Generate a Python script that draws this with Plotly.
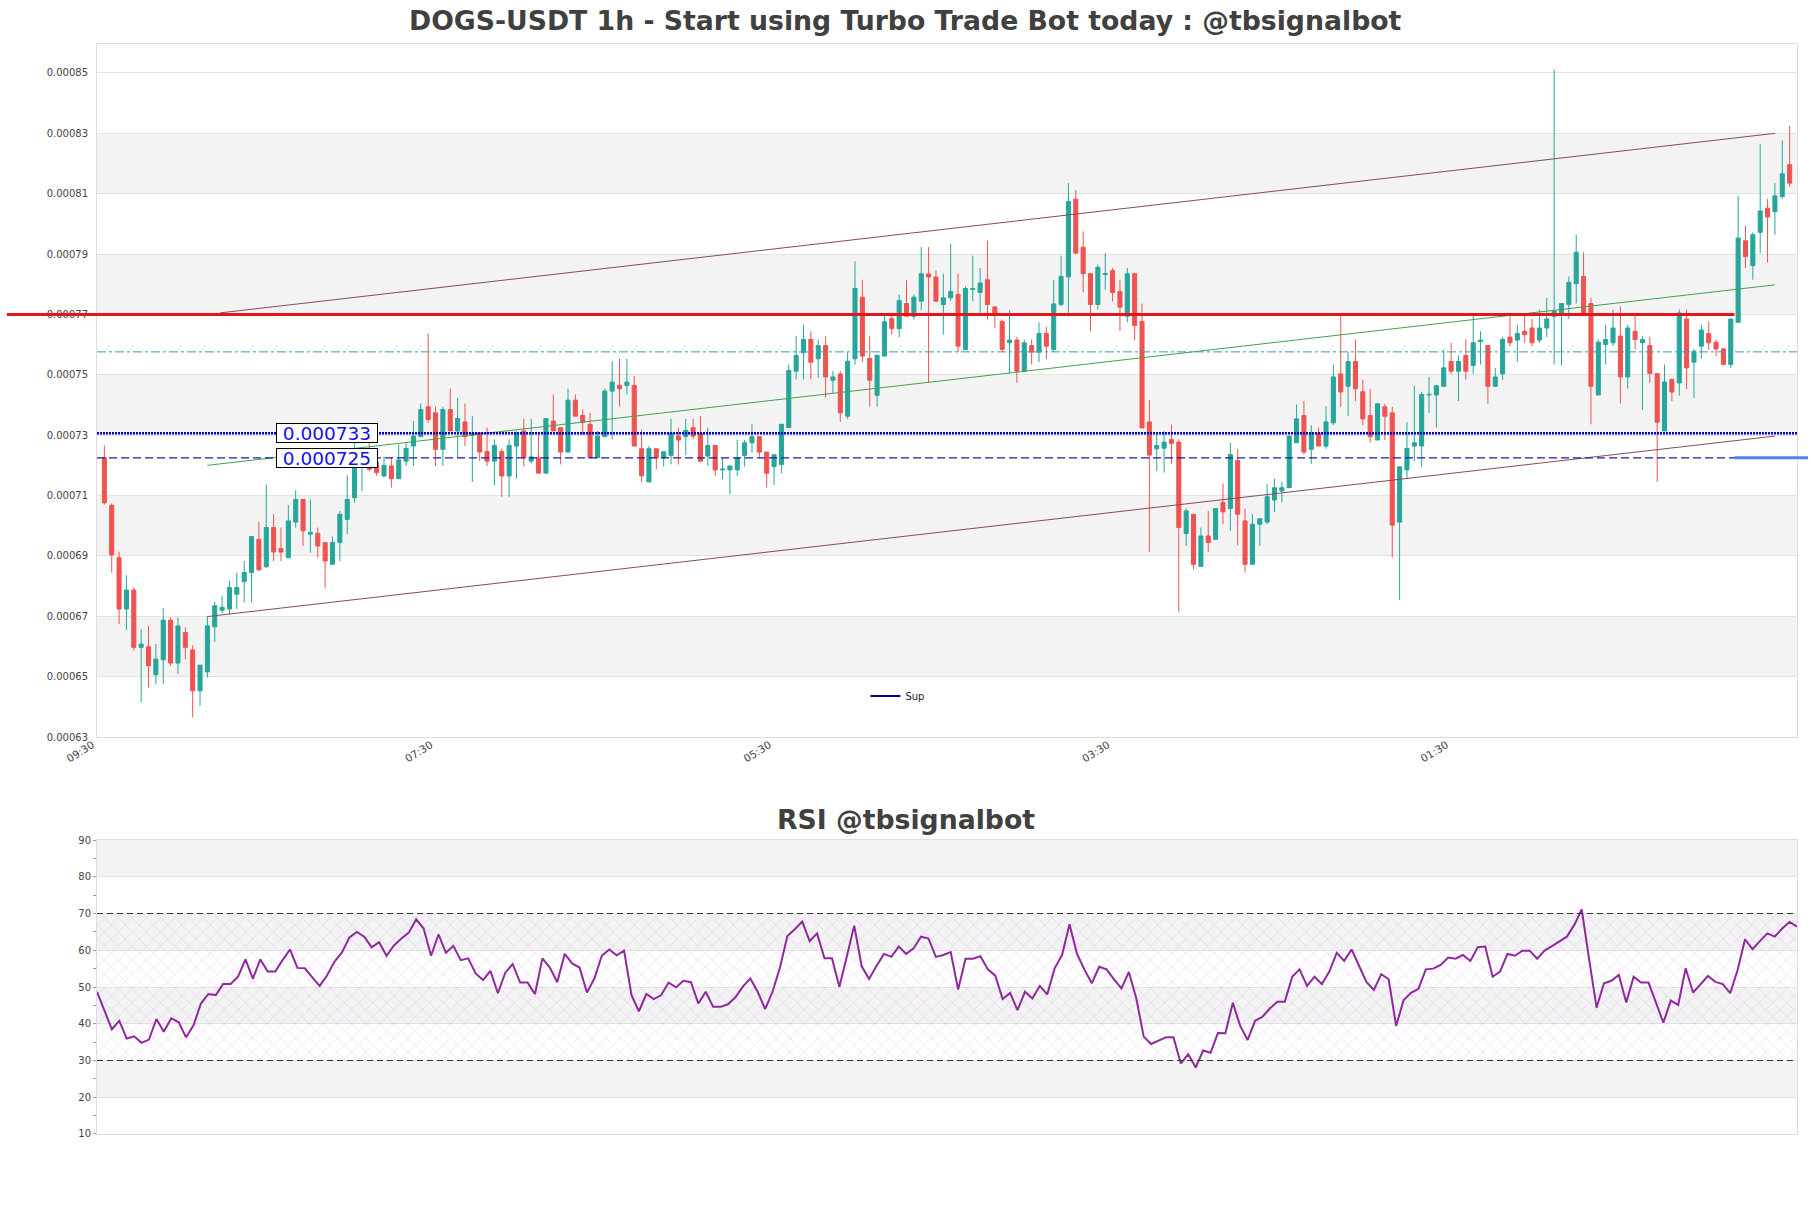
import plotly.graph_objects as go

TITLE = "DOGS-USDT 1h - Start using Turbo Trade Bot today : @tbsignalbot"
RSI_TITLE = "RSI @tbsignalbot"
UNIT = 1e-5  # price values below are given in units of 1e-5 USDT

opens = [72.25, 70.68, 68.94, 67.24, 67.87, 65.97, 65.99, 65.06, 65.56, 66.87,
         65.45, 66.46, 65.88, 64.53, 65.16, 66.65, 67.2, 67.24, 67.73, 68.14,
         68.45, 69.55, 68.64, 69.94, 69.24, 68.94, 70.12, 70.87, 69.72, 69.75,
         69.44, 68.72, 69.44, 70.21, 70.93, 71.96, 72.2, 72.09, 71.65, 71.98,
         71.56, 72.14, 72.64, 72.95, 73.94, 73.74, 72.53, 73.85, 73.14, 73.44,
         73.0, 73.08, 72.46, 72.14, 72.46, 71.65, 72.64, 73.14, 72.14, 72.25,
         71.74, 73.47, 73.25, 72.44, 74.16, 73.65, 73.36, 72.25, 72.95, 74.46,
         74.65, 74.65, 74.65, 72.55, 71.45, 72.55, 72.25, 72.33, 72.97, 72.95,
         73.25, 73.06, 72.31, 72.66, 71.85, 71.85, 71.85, 72.33, 72.75, 72.95,
         72.44, 71.96, 72.03, 73.25, 75.12, 75.73, 76.17, 75.53, 75.97, 74.82,
         75.03, 73.63, 75.53, 77.57, 75.54, 74.32, 75.62, 76.86, 76.53, 77.36,
         76.94, 77.44, 78.34, 78.24, 77.33, 77.55, 77.66, 75.84, 77.83, 77.73,
         78.15, 77.25, 76.77, 76.06, 76.15, 75.12, 75.97, 75.75, 76.37, 75.84,
         77.33, 78.24, 80.82, 79.23, 78.35, 77.33, 78.32, 78.45, 77.76, 76.94,
         78.35, 76.77, 73.44, 72.55, 72.57, 72.86, 72.77, 69.74, 70.38, 68.65,
         69.66, 69.55, 70.77, 70.57, 72.16, 70.16, 68.72, 70.05, 70.12, 70.85,
         71.15, 71.26, 72.75, 73.65, 72.53, 73.06, 72.64, 73.41, 75.03, 74.62,
         75.44, 74.44, 73.65, 72.84, 73.94, 73.74, 70.12, 71.85, 72.64, 72.64,
         74.33, 74.33, 74.62, 75.44, 75.12, 75.64, 75.31, 76.1, 75.97, 74.62,
         75.03, 76.25, 76.15, 76.44, 76.55, 76.15, 76.55, 76.94, 77.03, 77.33,
         78.02, 78.26, 77.36, 74.33, 76.0, 76.06, 76.28, 74.93, 76.44, 76.06,
         75.97, 75.04, 73.14, 74.85, 74.73, 76.85, 75.42, 75.95, 76.37, 76.08,
         75.86, 75.34, 76.74, 79.44, 78.62, 79.72, 80.52, 80.41, 80.91, 81.96]

highs = [72.66, 70.74, 69.14, 68.36, 67.95, 66.57, 66.68, 66.08, 67.26, 66.96,
         66.96, 66.63, 66.04, 65.38, 67.01, 67.48, 67.68, 68.17, 68.45, 68.83,
         69.66, 70.12, 71.36, 70.38, 69.94, 70.68, 71.18, 70.87, 70.87, 69.94,
         69.44, 69.64, 70.49, 71.67, 72.8, 72.25, 72.8, 72.2, 72.3, 72.25,
         72.69, 72.75, 73.47, 74.05, 76.37, 73.94, 73.94, 74.54, 74.24, 74.05,
         73.63, 73.08, 73.25, 72.86, 72.55, 72.86, 73.14, 73.54, 73.54, 73.03,
         73.55, 74.35, 73.25, 74.54, 74.35, 73.85, 73.74, 73.14, 74.54, 75.45,
         75.53, 75.53, 74.95, 73.19, 72.64, 72.55, 72.45, 73.54, 73.25, 73.54,
         73.54, 73.63, 73.25, 72.66, 72.25, 71.98, 72.84, 72.84, 73.36, 72.95,
         72.44, 72.35, 73.36, 75.34, 76.28, 76.66, 76.44, 76.17, 76.28, 75.12,
         75.12, 75.75, 78.76, 78.15, 76.28, 75.65, 77.03, 77.05, 77.66, 78.15,
         77.66, 79.23, 79.23, 78.46, 78.35, 79.34, 78.35, 77.93, 78.95, 78.54,
         79.44, 77.25, 76.83, 77.14, 76.26, 76.17, 76.17, 76.74, 76.59, 78.15,
         78.95, 81.35, 81.13, 79.75, 78.35, 78.65, 79.03, 78.54, 78.15, 78.54,
         78.35, 77.36, 74.16, 73.08, 73.13, 73.35, 72.86, 70.57, 70.38, 69.94,
         70.49, 70.57, 71.4, 72.75, 72.55, 70.57, 70.38, 70.23, 71.37, 71.56,
         71.45, 72.97, 74.02, 74.13, 73.33, 73.25, 73.96, 75.34, 77.05, 75.75,
         76.17, 74.84, 74.54, 74.04, 74.04, 73.94, 71.95, 73.43, 74.64, 74.44,
         74.93, 74.64, 75.84, 76.06, 75.64, 76.17, 77.05, 76.44, 75.97, 75.23,
         76.25, 77.05, 76.66, 77.05, 76.85, 77.16, 77.55, 85.12, 77.36, 78.26,
         79.64, 79.06, 77.55, 76.17, 76.66, 77.16, 77.27, 76.66, 77.05, 76.28,
         76.26, 75.04, 75.34, 74.85, 77.16, 77.16, 75.86, 76.66, 76.77, 76.17,
         75.86, 76.85, 80.93, 79.94, 79.72, 82.64, 80.82, 81.35, 82.76, 83.25]

lows = [70.7, 68.45, 66.74, 66.55, 65.86, 64.15, 64.64, 64.75, 64.75, 65.36,
        65.09, 65.58, 63.65, 64.04, 64.97, 66.15, 67.1, 67.07, 67.24, 67.46,
        67.46, 68.5, 68.6, 68.83, 68.83, 68.94, 69.94, 69.33, 69.1, 68.94,
        67.95, 68.72, 68.83, 69.72, 70.76, 71.15, 71.8, 71.65, 71.6, 71.26,
        71.56, 71.98, 71.98, 72.95, 73.41, 71.98, 71.98, 73.14, 72.25, 72.64,
        71.45, 72.14, 71.98, 71.34, 70.96, 70.96, 71.56, 71.96, 72.07, 71.74,
        71.74, 73.14, 72.03, 72.44, 73.63, 73.0, 72.25, 72.25, 72.95, 72.86,
        73.94, 74.35, 72.64, 71.45, 71.45, 71.87, 71.96, 72.03, 72.03, 72.33,
        72.86, 72.14, 71.98, 71.65, 71.54, 71.04, 71.65, 71.96, 72.42, 72.25,
        71.26, 71.35, 71.74, 73.25, 74.85, 74.85, 74.85, 74.9, 74.24, 74.4,
        73.44, 73.54, 75.34, 75.42, 73.94, 73.94, 75.62, 76.33, 76.25, 76.94,
        76.83, 77.14, 74.73, 77.44, 76.33, 77.44, 75.75, 75.84, 77.44, 77.05,
        76.83, 76.55, 75.75, 75.04, 74.73, 75.12, 75.34, 75.42, 75.53, 75.75,
        77.27, 76.94, 79.03, 77.73, 76.44, 77.16, 77.82, 77.43, 76.44, 76.74,
        76.15, 73.24, 69.13, 71.81, 71.76, 72.06, 67.15, 69.33, 68.56, 68.65,
        69.13, 69.55, 70.05, 69.83, 69.35, 68.45, 68.72, 69.33, 70.05, 70.46,
        70.77, 71.26, 72.75, 72.36, 72.05, 72.64, 72.55, 73.33, 73.93, 73.63,
        74.13, 73.33, 72.75, 72.84, 72.84, 68.95, 67.54, 71.54, 72.14, 71.95,
        73.74, 73.25, 74.62, 75.03, 74.13, 74.84, 75.03, 75.34, 74.04, 74.62,
        74.84, 75.95, 75.43, 76.06, 75.95, 76.06, 76.25, 75.34, 75.31, 76.85,
        77.36, 76.96, 73.36, 74.33, 75.34, 75.95, 74.05, 74.54, 75.84, 73.83,
        74.73, 71.45, 73.14, 74.13, 74.31, 74.52, 74.24, 75.53, 75.84, 75.62,
        75.34, 75.23, 76.74, 78.54, 78.15, 79.03, 78.72, 79.64, 80.82, 81.24]

closes = [70.76, 69.03, 67.24, 67.87, 65.97, 66.08, 65.36, 65.58, 66.87, 65.45,
          66.68, 65.97, 64.53, 65.38, 66.68, 67.35, 67.3, 67.95, 67.95, 68.45,
          69.64, 68.54, 69.94, 69.13, 69.13, 70.16, 70.87, 69.83, 69.78, 69.33,
          68.83, 69.44, 70.38, 70.87, 72.0, 72.0, 71.87, 71.76, 72.0, 71.56,
          72.18, 72.56, 72.97, 73.85, 73.52, 72.53, 73.85, 73.14, 73.55, 72.95,
          73.05, 72.44, 72.14, 72.66, 71.65, 72.66, 73.06, 72.25, 72.28, 71.74,
          73.55, 73.14, 72.44, 74.16, 73.63, 73.43, 72.25, 72.97, 74.46, 74.76,
          74.54, 74.76, 72.64, 71.65, 72.55, 72.25, 72.45, 73.06, 72.84, 73.16,
          72.97, 72.14, 72.66, 71.85, 71.87, 71.98, 72.25, 72.75, 72.95, 72.44,
          71.74, 72.35, 73.36, 75.14, 75.64, 76.17, 75.42, 75.97, 74.93, 74.93,
          73.74, 75.45, 77.86, 75.62, 74.82, 75.65, 76.76, 76.53, 77.46, 76.94,
          77.57, 78.35, 78.24, 77.44, 77.55, 77.76, 75.95, 77.86, 77.86, 78.04,
          77.33, 77.05, 75.84, 76.15, 75.12, 76.06, 75.75, 76.37, 75.95, 77.35,
          78.26, 80.74, 79.03, 78.35, 77.33, 78.56, 78.35, 77.73, 77.24, 78.35,
          76.63, 73.24, 72.34, 72.66, 72.77, 72.73, 69.94, 70.49, 68.72, 69.66,
          69.44, 70.57, 70.46, 72.36, 70.38, 68.72, 70.05, 70.23, 70.96, 71.26,
          71.26, 72.97, 73.54, 72.44, 73.06, 72.64, 73.44, 74.93, 74.43, 75.44,
          74.54, 73.54, 72.95, 74.04, 73.63, 70.02, 71.95, 72.56, 72.75, 74.35,
          74.35, 74.64, 75.23, 75.12, 75.44, 75.12, 76.06, 76.15, 74.62, 74.93,
          76.17, 76.06, 76.37, 76.33, 76.06, 76.55, 76.85, 77.11, 77.36, 78.06,
          79.06, 77.0, 74.62, 76.08, 76.17, 76.55, 74.93, 76.55, 76.17, 76.17,
          75.04, 73.43, 74.76, 74.43, 77.05, 75.23, 75.78, 76.48, 76.06, 75.86,
          75.34, 76.85, 79.53, 78.92, 79.64, 80.43, 80.23, 80.93, 81.66, 81.35]

rsi = [48.7, 43.7, 38.5, 40.8, 36.0, 36.6, 34.8, 35.7, 41.3, 37.8,
       41.5, 40.4, 36.3, 39.6, 45.5, 48.1, 47.8, 50.8, 50.8, 52.8,
       57.5, 52.3, 57.5, 54.2, 54.2, 57.3, 60.2, 55.2, 55.1, 52.6,
       50.3, 53.2, 56.9, 59.4, 63.5, 65.0, 63.7, 60.8, 62.2, 58.5,
       61.3, 63.2, 64.8, 68.4, 65.9, 58.5, 64.3, 59.3, 61.2, 57.3,
       57.8, 53.7, 51.9, 54.4, 48.3, 53.9, 56.2, 51.2, 51.2, 48.1,
       57.8, 55.3, 51.3, 59.0, 56.4, 55.3, 48.5, 52.3, 58.5, 60.2,
       58.6, 59.9, 47.8, 43.4, 48.1, 46.7, 47.8, 51.2, 49.9, 51.7,
       51.3, 45.5, 48.7, 44.6, 44.6, 45.3, 47.2, 50.1, 52.3, 48.7,
       44.0, 48.7, 55.3, 63.9, 65.7, 67.8, 62.5, 64.6, 57.8, 57.8,
       50.1, 58.2, 66.7, 55.7, 52.2, 55.7, 59.0, 58.2, 61.0, 59.0,
       60.5, 63.7, 63.2, 58.2, 58.7, 59.5, 49.3, 57.7, 57.7, 58.4,
       54.8, 53.1, 46.7, 48.4, 43.7, 48.7, 46.9, 50.3, 48.0, 55.1,
       58.7, 67.1, 59.1, 54.8, 51.0, 55.5, 54.8, 52.1, 49.6, 54.1,
       46.9, 36.5, 34.5, 35.4, 36.3, 36.3, 29.2, 31.7, 28.1, 32.7,
       32.1, 37.5, 37.4, 45.7, 39.4, 35.6, 40.8, 41.9, 44.2, 46.0,
       46.0, 52.8, 54.8, 50.3, 52.8, 50.8, 54.2, 59.3, 57.1, 60.2,
       56.0, 51.4, 49.2, 53.5, 52.1, 39.4, 46.4, 48.4, 49.5, 54.8,
       55.0, 56.0, 58.0, 57.7, 58.7, 57.1, 60.8, 61.0, 52.8, 54.2,
       59.0, 58.5, 59.9, 59.9, 57.7, 59.9, 61.1, 62.3, 63.7, 66.9,
       71.1, 57.5, 44.4, 51.0, 51.7, 53.3, 45.8, 52.8, 51.2, 51.2,
       46.0, 40.3, 46.3, 45.1, 55.1, 48.5, 50.7, 53.0, 51.4, 50.8,
       48.3, 54.6, 63.0, 60.3, 62.5, 64.6, 63.7, 65.9, 67.7, 66.4]

tick_idx = [0, 46, 92, 138, 184]
tick_labels = ["09:30", "07:30", "05:30", "03:30", "01:30"]
price_ticks = [0.00063, 0.00065, 0.00067, 0.00069, 0.00071, 0.00073,
               0.00075, 0.00077, 0.00079, 0.00081, 0.00083, 0.00085]
rsi_ticks = [10, 20, 30, 40, 50, 60, 70, 80, 90]

# horizontal levels
resistance_level = 0.000770
resistance_end_idx = 221.5
pivot_level = 0.0007576
sup_level_a = 0.0007306
sup_label_a = "0.000733"
sup_level_b = 0.0007225
sup_label_b = "0.000725"
label_idx = 30.2
rsi_upper, rsi_lower = 70, 30

# channel / trend lines (index, price in 1e-5 units)
chan_upper_x = [15.7, 227]
chan_upper_y = [77.05, 83.0]
chan_lower_x = [14, 227]
chan_lower_y = [66.99, 72.97]
trend_mid_x = [14, 227]
trend_mid_y = [72.0, 77.98]

n = len(opens)
idx = list(range(n))
X_MIN, X_MAX = -1, n
Y_MIN, Y_MAX = 0.00063, 0.0008596

GREEN = "#26a69a"
RED = "#ef5350"
FONT = "DejaVu Sans"

def sc(v):
    return [a * UNIT for a in v]

def x_paper(i):
    return (i - X_MIN) / (X_MAX - X_MIN)

fig = go.Figure()

fig.add_trace(go.Candlestick(
    x=idx, open=sc(opens), high=sc(highs), low=sc(lows), close=sc(closes),
    increasing=dict(line=dict(color=GREEN, width=1), fillcolor=GREEN),
    decreasing=dict(line=dict(color=RED, width=1), fillcolor=RED),
    whiskerwidth=0, showlegend=False, xaxis="x", yaxis="y", hoverinfo="skip"))

for xs, ys, col in [(chan_upper_x, chan_upper_y, "#8a4a5c"),
                    (chan_lower_x, chan_lower_y, "#8a4a5c"),
                    (trend_mid_x, trend_mid_y, "#3fa34d")]:
    fig.add_trace(go.Scatter(x=xs, y=sc(ys), mode="lines",
                             line=dict(color=col, width=1),
                             showlegend=False, hoverinfo="skip",
                             xaxis="x", yaxis="y"))

# legend-only entry
fig.add_trace(go.Scatter(x=[None], y=[None], mode="lines", name="Sup",
                         line=dict(color="#00008b", width=2),
                         xaxis="x", yaxis="y"))

# RSI hatch zone
fig.add_trace(go.Scatter(
    x=[0, n - 1, n - 1, 0, 0], y=[rsi_lower, rsi_lower, rsi_upper, rsi_upper, rsi_lower],
    mode="lines", fill="toself", fillcolor="rgba(0,0,0,0)",
    fillpattern=dict(shape="x", fgcolor="rgba(185,120,215,0.75)",
                     bgcolor="rgba(0,0,0,0)", size=10, solidity=0.1),
    line=dict(width=0), showlegend=False, hoverinfo="skip",
    xaxis="x2", yaxis="y2"))

fig.add_trace(go.Scatter(x=idx, y=rsi, mode="lines",
                         line=dict(color="#8e2a9c", width=2),
                         showlegend=False, hoverinfo="skip",
                         xaxis="x2", yaxis="y2"))

shapes = []
# alternating bands
for k in range(1, len(price_ticks) - 1, 2):
    shapes.append(dict(type="rect", xref="paper", yref="y", x0=0, x1=1,
                       y0=price_ticks[k], y1=price_ticks[k + 1],
                       fillcolor="#f3f3f3", line=dict(width=0), layer="below"))
for k in range(1, len(rsi_ticks) - 1, 2):
    shapes.append(dict(type="rect", xref="paper", yref="y2", x0=0, x1=1,
                       y0=rsi_ticks[k], y1=rsi_ticks[k + 1],
                       fillcolor="#f3f3f3", line=dict(width=0), layer="below"))

# horizontal levels
shapes.append(dict(type="line", xref="paper", yref="y", x0=0, x1=1,
                   y0=pivot_level, y1=pivot_level,
                   line=dict(color="#3a9cc4", width=1, dash="dashdot")))
shapes.append(dict(type="line", xref="paper", yref="y", x0=0, x1=1,
                   y0=sup_level_a, y1=sup_level_a,
                   line=dict(color="#0000c8", width=2.5, dash="2px,1px")))
shapes.append(dict(type="line", xref="paper", yref="y", x0=0, x1=1,
                   y0=sup_level_b, y1=sup_level_b,
                   line=dict(color="#1c1ca0", width=1.3, dash="8px,4px")))
shapes.append(dict(type="line", xref="paper", yref="y", x0=-0.053,
                   x1=x_paper(resistance_end_idx),
                   y0=resistance_level, y1=resistance_level,
                   line=dict(color="#e4161c", width=3)))
shapes.append(dict(type="line", xref="paper", yref="y",
                   x0=x_paper(resistance_end_idx), x1=1.0065,
                   y0=sup_level_b, y1=sup_level_b,
                   line=dict(color="#4a86ee", width=3)))
# RSI bounds
for lv in (rsi_upper, rsi_lower):
    shapes.append(dict(type="line", xref="paper", yref="y2", x0=0, x1=1,
                       y0=lv, y1=lv,
                       line=dict(color="#333333", width=1.2, dash="6px,4px")))

TITLE_X = 0.4756  # figure centre expressed in plot-area paper units
annotations = [
    dict(text="<b>" + TITLE + "</b>", xref="paper", yref="paper", x=TITLE_X, y=1.0215,
         xanchor="center", yanchor="middle", showarrow=False,
         font=dict(family=FONT, size=26.7, color="#404040")),
    dict(text="<b>" + RSI_TITLE + "</b>", xref="paper", yref="paper", x=TITLE_X, y=0.2885,
         xanchor="center", yanchor="middle", showarrow=False,
         font=dict(family=FONT, size=26.7, color="#404040")),
]
for lv, lab in [(sup_level_a, sup_label_a), (sup_level_b, sup_label_b)]:
    annotations.append(dict(text=lab, xref="x", yref="y", x=label_idx, y=lv,
                            xanchor="center", yanchor="middle", showarrow=False,
                            font=dict(family=FONT, size=18.5, color="#1010f0"),
                            bgcolor="white", bordercolor="black", borderwidth=1,
                            borderpad=0, width=100, height=18))

axis_common = dict(showline=True, mirror=True, linecolor="#dddddd", linewidth=1,
                   zeroline=False)

fig.update_layout(
    width=1811, height=1208,
    margin=dict(l=97, r=14, t=44, b=74),
    paper_bgcolor="white", plot_bgcolor="white",
    font=dict(family=FONT, size=10, color="#444444"),
    shapes=shapes, annotations=annotations,
    boxgap=0.45, boxgroupgap=0,
    showlegend=True,
    legend=dict(x=0.452, y=0.4018, xanchor="left", yanchor="middle",
                font=dict(family=FONT, size=10, color="#222222"),
                bgcolor="rgba(0,0,0,0)", itemwidth=30),
    xaxis=dict(domain=[0, 1], range=[X_MIN, X_MAX], anchor="y",
               tickmode="array", tickvals=tick_idx, ticktext=tick_labels,
               tickangle=-32, showgrid=False, ticks="",
               ticklabelshift=-12, ticklabelstandoff=-3,
               tickfont=dict(size=10.5, color="#444444"),
               rangeslider=dict(visible=False), **axis_common),
    yaxis=dict(domain=[0.36422, 1], range=[Y_MIN, Y_MAX], anchor="x",
               tickmode="array", tickvals=price_ticks,
               ticktext=["%.5f" % v for v in price_ticks],
               showgrid=True, gridcolor="#e2e2e2", gridwidth=1, ticks="",
               ticklabelstandoff=6,
               tickfont=dict(size=10, color="#444444"), **axis_common),
    xaxis2=dict(domain=[0, 1], range=[0, n - 1], anchor="y2",
                showticklabels=False, showgrid=False, ticks="", **axis_common),
    yaxis2=dict(domain=[0, 0.26972], range=[10, 90], anchor="x2",
                tickmode="array", tickvals=rsi_ticks,
                showgrid=True, gridcolor="#e2e2e2", gridwidth=1,
                ticks="outside", ticklen=3, tickcolor="#999999",
                minor=dict(dtick=5, ticks="outside", ticklen=3, tickcolor="#999999",
                           showgrid=False),
                tickfont=dict(size=10, color="#444444"), **axis_common),
)

fig.write_html("out.html")
